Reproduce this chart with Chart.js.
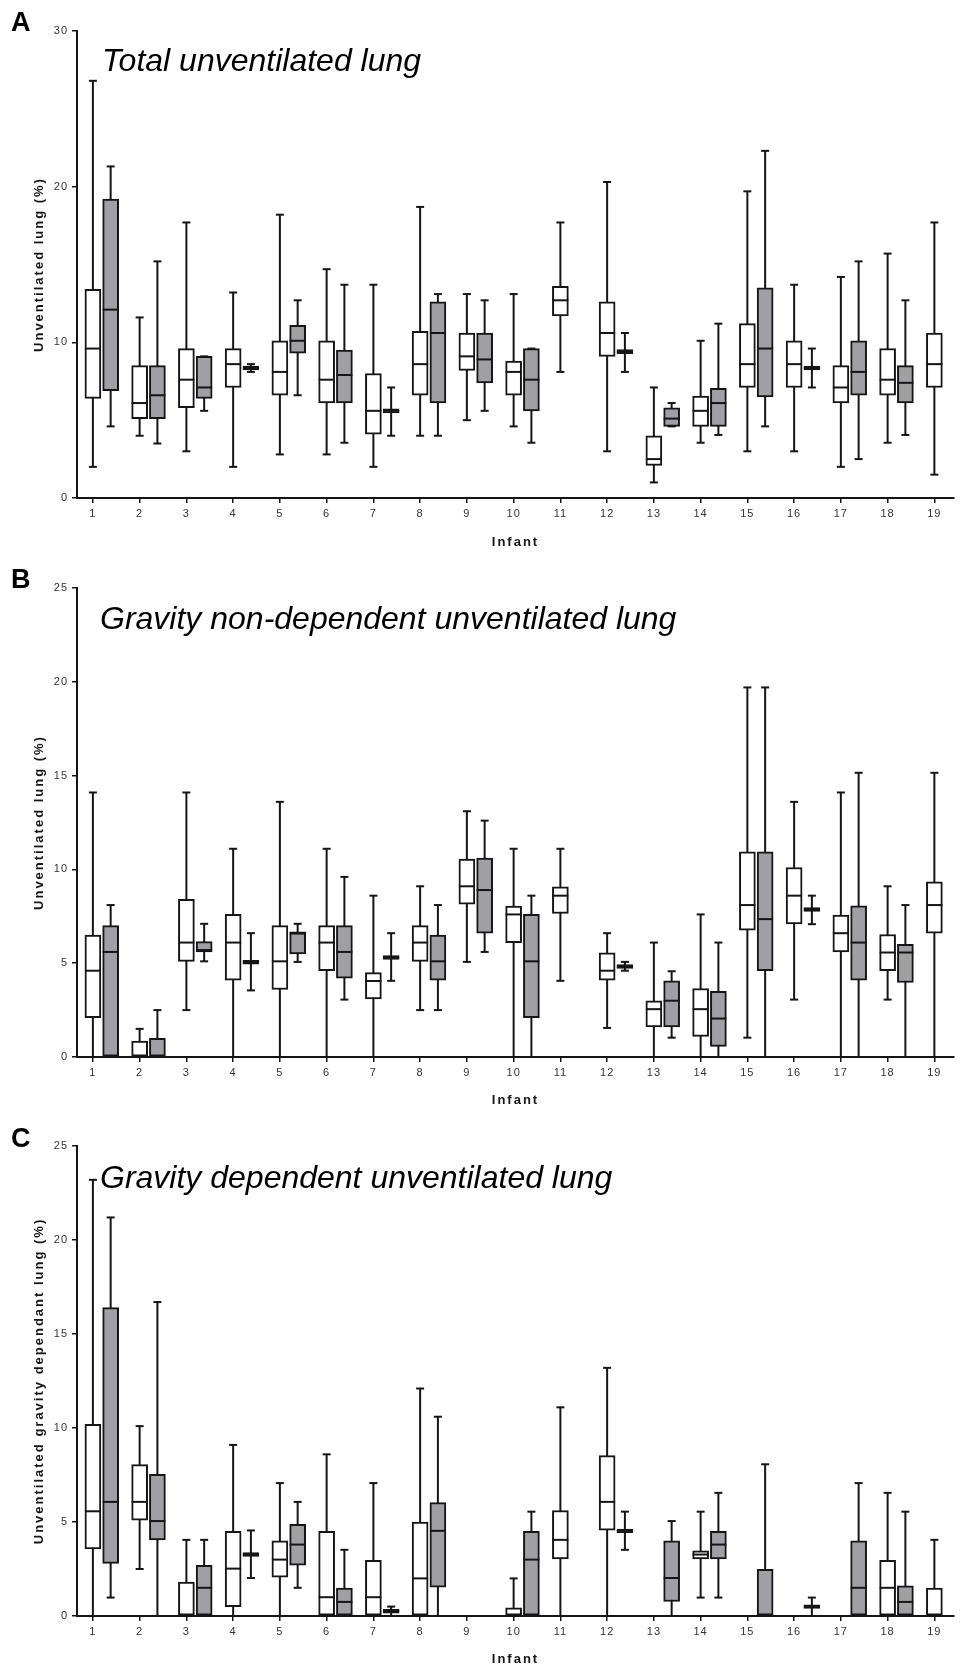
<!DOCTYPE html>
<html>
<head>
<meta charset="utf-8">
<script src="https://cdn.jsdelivr.net/npm/chart.js@4.4.1/dist/chart.umd.min.js"></script>
<style>
  html, body { margin: 0; padding: 0; background: #fff; }
  #wrap { position: relative; width: 964px; height: 1667px; overflow: hidden;
          font-family: "Liberation Sans", Arial, sans-serif; }
  canvas { position: absolute; left: 0; }
  .letter { position: absolute; left: 11px; font-weight: bold; font-size: 27px; line-height: 27px; color: #000; }
  .ptitle { position: absolute; font-style: italic; font-size: 32px; line-height: 32px; color: #000; white-space: nowrap; }
</style>
</head>
<body>
<div id="wrap">
  <canvas id="cA" width="964" height="560" style="top:0px"></canvas>
  <canvas id="cB" width="964" height="585" style="top:530px"></canvas>
  <canvas id="cC" width="964" height="552" style="top:1115px"></canvas>
  <div class="letter" style="top:9px">A</div>
  <div class="letter" style="top:566px">B</div>
  <div class="letter" style="top:1125px">C</div>
  <div class="ptitle" style="top:44px;left:102px">Total unventilated lung</div>
  <div class="ptitle" style="top:602px;left:100px">Gravity non-dependent unventilated lung</div>
  <div class="ptitle" style="top:1161px;left:100px">Gravity dependent unventilated lung</div>
</div>
<script>
// ---- data: each row = [min, Q1, median, Q3, max]; null = no box ----
const infants = [1,2,3,4,5,6,7,8,9,10,11,12,13,14,15,16,17,18,19];

const yTicksTotal = [0, 10, 20, 30];
const yTicksGravity = [0, 5, 10, 15, 20, 25];

const totalWhite = [
  [2.0,6.4,9.6,13.4,26.8],[4.0,5.1,6.1,8.5,11.6],[3.0,5.8,7.6,9.6,17.7],[2.0,7.1,8.6,9.6,13.2],
  [2.8,6.6,8.1,10.1,18.2],[2.8,6.1,7.6,10.1,14.7],[2.0,4.1,5.6,8.0,13.7],[4.0,6.6,8.6,10.7,18.7],
  [5.0,8.2,9.1,10.6,13.1],[4.6,6.6,8.1,8.8,13.1],[8.1,11.7,12.7,13.6,17.7],[3.0,9.1,10.6,12.6,20.3],
  [1.0,2.1,2.5,4.0,7.1],[3.55,4.6,5.6,6.55,10.1],[3.0,7.1,8.6,11.2,19.7],[3.0,7.1,8.6,10.1,13.7],
  [2.0,6.1,7.1,8.5,14.2],[3.55,6.6,7.6,9.6,15.7],[1.5,7.1,8.6,10.6,17.7]
];
const totalGray = [
  [4.6,6.9,12.1,19.2,21.3],[3.5,5.1,6.6,8.5,15.2],[5.6,6.4,7.1,9.1,9.1],[8.1,8.22,8.35,8.48,8.6],
  [6.6,9.3,10.1,11.1,12.7],[3.55,6.1,7.9,9.5,13.7],[4.0,5.47,5.6,5.73,7.1],[4.0,6.1,10.6,12.6,13.1],
  [5.6,7.4,8.9,10.6,12.7],[3.55,5.6,7.6,9.6,9.6],null,[8.1,9.27,9.4,9.53,10.6],
  [4.6,4.6,5.1,5.8,6.1],[4.05,4.6,6.1,7.05,11.2],[4.6,6.5,9.6,13.5,22.3],[7.1,8.22,8.35,8.48,9.6],
  [2.5,6.6,8.1,10.1,15.2],[4.05,6.1,7.4,8.5,12.7],null
];

const nondepWhite = [
  [0,2.1,4.6,6.5,14.1],[0,0,0,0.85,1.5],[2.5,5.1,6.1,8.4,14.1],[0,4.1,6.1,7.6,11.1],
  [0,3.6,5.1,7.0,13.6],[0,4.6,6.1,7.0,11.1],[0,3.1,4.05,4.5,8.6],[2.5,5.1,6.1,7.0,9.1],
  [5.07,8.15,9.1,10.55,13.1],[0,6.1,7.6,8.05,11.1],[4.06,7.65,8.6,9.07,11.1],[1.55,4.1,4.6,5.55,6.6],
  [0,1.6,2.55,3.0,6.1],[0,1.1,2.55,3.65,7.6],[1.03,6.76,8.1,10.94,19.7],[3.06,7.1,8.6,10.1,13.6],
  [0,5.6,6.6,7.56,14.1],[3.06,4.6,5.57,6.53,9.1],[0,6.6,8.1,9.34,15.15]
];
const nondepGray = [
  [0,0,5.6,7.0,8.1],[0,0,0,1.0,2.5],[5.1,5.6,5.7,6.15,7.1],[3.55,4.95,5.05,5.15,6.6],
  [5.07,5.5,6.58,6.67,7.1],[3.06,4.2,5.6,7.0,9.6],[4.06,5.2,5.3,5.4,6.6],[2.5,4.1,5.1,6.5,8.1],
  [5.6,6.6,8.9,10.6,12.6],[0,2.1,5.1,7.6,8.6],null,[4.6,4.72,4.82,4.92,5.07],
  [1.03,1.6,3.0,4.06,4.57],[0,0.57,2.05,3.5,6.1],[0,4.6,7.35,10.94,19.7],[7.08,7.76,7.86,7.96,8.6],
  [0,4.1,6.1,8.06,15.15],[0,3.97,5.57,6.0,8.1],null
];

const depWhite = [
  [0,3.57,5.57,10.2,23.2],[2.5,5.1,6.07,8.05,10.1],[0,0,0,1.8,4.05],[0,0.5,2.52,4.5,9.1],
  [0,2.06,3.0,4.0,7.07],[0,0,1.0,4.5,8.6],[0,0,1.0,2.96,7.07],[0,0,2.0,5.0,12.1],
  [0,0,0,0,0],[0,0,0,0.44,2.0],[0,3.04,4.05,5.61,11.1],[0,4.57,6.07,8.53,13.2],
  [0,0,0,0,0],[0.98,3.04,3.27,3.46,5.55],[0,0,0,0,0],[0,0,0,0,0],
  [0,0,0,0,0],[0,0,1.5,2.96,6.55],[0,0,0,1.48,4.05]
];
const depGray = [
  [0.98,2.8,6.07,16.4,21.2],[0,4.05,5.05,7.53,16.7],[0,0,1.5,2.7,4.05],[2.02,3.17,3.27,3.37,4.55],
  [1.5,2.7,3.8,4.88,6.07],[0,0,0.75,1.48,3.52],[0,0.15,0.25,0.35,0.5],[0,1.54,4.53,6.03,10.6],
  [0,0,0,0,0],[0,0,3.0,4.5,5.55],null,[3.52,4.43,4.53,4.63,5.55],
  [0,0.77,2.02,4.0,5.05],[0.98,3.04,3.8,4.5,6.55],[0,0,0,2.48,8.07],[0,0.4,0.5,0.6,0.98],
  [0,0,1.5,4.0,7.07],[0,0,0.75,1.6,5.55],null
];

// ---- styling ----
const FONT = '"Liberation Sans", Arial, sans-serif';
const INK = '#151515';
const GRAY_FILL = '#a09fa4';
const GRAY_SHIFT = 0.38;

function boxDatasets(rows, shift, fill) {
  const pts = [];
  rows.forEach((r, i) => { if (r) pts.push({ x: infants[i] + shift, r }); });
  return [
    { type: 'bar', data: pts.map(p => ({ x: p.x, y: [p.r[0], p.r[4]] })),
      backgroundColor: INK, borderWidth: 0, barThickness: 2, grouped: false, inflateAmount: 0, order: 3 },
    { type: 'bar', data: pts.map(p => ({ x: p.x, y: [p.r[1], p.r[3]] })),
      backgroundColor: fill, borderColor: INK, borderWidth: 2, borderSkipped: false,
      barThickness: 16, grouped: false, order: 2 },
    { type: 'line', data: pts.map(p => ({ x: p.x, y: p.r[2] })), showLine: false,
      pointStyle: 'line', pointRadius: 8, pointBorderWidth: 2, pointBorderColor: INK,
      pointBackgroundColor: INK, clip: false, order: 1 },
    { type: 'line', data: pts.flatMap(p => [{ x: p.x, y: p.r[0] }, { x: p.x, y: p.r[4] }]), showLine: false,
      pointStyle: 'line', pointRadius: 4, pointBorderWidth: 2, pointBorderColor: INK,
      pointBackgroundColor: INK, clip: false, order: 1 }
  ];
}

const spacingPlugin = {
  id: 'spacing',
  beforeDraw(chart) {
    chart.ctx.letterSpacing = '1px';
    Object.values(chart.scales).forEach(s => {
      if (!s.__patched) {
        const orig = s.drawTitle;
        s.drawTitle = function () {
          const c = this.ctx; const prev = c.letterSpacing;
          c.letterSpacing = '2px'; orig.call(this); c.letterSpacing = prev;
        };
        s.__patched = true;
      }
    });
  }
};

function axisCommon() {
  return {
    grid: { display: true, drawOnChartArea: false, drawTicks: true, tickLength: 5, color: INK, lineWidth: 1.5, offset: false },
    border: { display: true, color: INK, width: 2 }
  };
}

function makePanel(id, white, gray, yMax, yTicks, yTitle, padTop, xHeight, titlePadBottom) {
  const c = axisCommon();
  new Chart(document.getElementById(id), {
    type: 'bar',
    data: { datasets: [...boxDatasets(white, 0, '#ffffff'), ...boxDatasets(gray, GRAY_SHIFT, GRAY_FILL)] },
    options: {
      responsive: false, animation: false, events: [],
      layout: { padding: { top: padTop, left: 0, right: 0, bottom: 0 } },
      plugins: { legend: { display: false }, tooltip: { enabled: false } },
      scales: {
        x: {
          type: 'linear', min: 0.66, max: 19.42, offset: false, bounds: 'data',
          afterBuildTicks: s => { s.ticks = infants.map(v => ({ value: v })); },
          afterFit: s => { s.height = xHeight; },
          grid: c.grid, border: c.border,
          ticks: { font: { family: FONT, size: 11 }, color: '#333', padding: 4, maxRotation: 0, autoSkip: false,
                   callback: v => String(v) },
          title: { display: true, text: 'Infant', color: INK, font: { family: FONT, size: 13, weight: 'bold' },
                   padding: { top: 0, bottom: titlePadBottom } }
        },
        y: {
          type: 'linear', min: 0, max: yMax, bounds: 'data',
          afterBuildTicks: s => { s.ticks = yTicks.map(v => ({ value: v })); },
          afterFit: s => { s.width = 77; },
          grid: c.grid, border: c.border,
          ticks: { font: { family: FONT, size: 11 }, color: '#333', padding: 4, callback: v => String(v) },
          title: { display: true, text: yTitle, color: INK, font: { family: FONT, size: 13, weight: 'bold' },
                   padding: { top: 32, bottom: 0 } }
        }
      }
    },
    plugins: [spacingPlugin]
  });
}

makePanel('cA', totalWhite, totalGray, 30, yTicksTotal, 'Unventilated lung (%)', 31, 62, 10);
makePanel('cB', nondepWhite, nondepGray, 25, yTicksGravity, 'Unventilated lung (%)', 58, 58, 7);
makePanel('cC', depWhite, depGray, 25, yTicksGravity, 'Unventilated gravity dependant lung (%)', 31, 51, 0);
</script>
</body>
</html>
